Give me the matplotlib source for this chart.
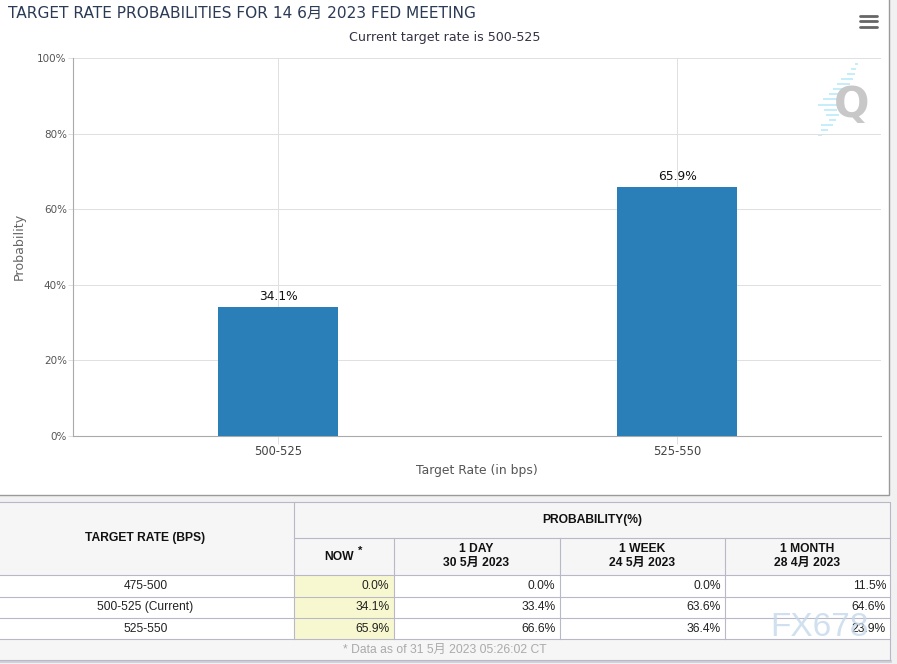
import matplotlib
matplotlib.use('Agg')
import matplotlib.pyplot as plt
from matplotlib.patches import Rectangle

# === Chart data ===
categories = ["500-525", "525-550"]
probabilities = [34.1, 65.9]
bar_labels = ["34.1%", "65.9%"]
y_ticks = [0, 20, 40, 60, 80, 100]

# === Table data ===
table_rates = ["475-500", "500-525 (Current)", "525-550"]
table_now = ["0.0%", "34.1%", "65.9%"]
table_day = ["0.0%", "33.4%", "66.6%"]
table_week = ["0.0%", "63.6%", "36.4%"]
table_month = ["11.5%", "64.6%", "23.9%"]
table_heads = ["1 DAY\n30 5月 2023", "1 WEEK\n24 5月 2023", "1 MONTH\n28 4月 2023"]

W, H = 897, 664
CHART_FONT = ['DejaVu Sans', 'Noto Sans CJK SC']
TABLE_FONT = ['Liberation Sans', 'Noto Sans CJK SC']
plt.rcParams['font.family'] = CHART_FONT

fig = plt.figure(figsize=(W / 100, H / 100), dpi=100, facecolor='#f1f1f1')

# Overlay in pixel coords for the page, frame, table
page = fig.add_axes([0, 0, 1, 1], zorder=0)
page.set_xlim(0, W)
page.set_ylim(H, 0)
page.axis('off')
page.add_patch(Rectangle((-2, -2), 891, 497, fc='white', ec='#9a9a9a', lw=1, zorder=0.1))

# === Bar chart ===
ax = fig.add_axes([73 / W, 1 - 435.5 / H, 808 / W, 377.5 / H], zorder=1)
ax.patch.set_alpha(0)
x = range(len(categories))
ax.bar(x, probabilities, width=0.3, color='#2a7fb8', zorder=3)
ax.set_xlim(-0.514, 1.511)
ax.set_ylim(0, 100)
ax.set_xticks(list(x), categories, fontsize=8.3, color='#444444')
ax.set_yticks(y_ticks, [f"{v}%" for v in y_ticks], fontsize=7.5, color='#555555')
ax.grid(True, color='#e0e0e0', lw=0.72, zorder=0)
ax.set_axisbelow(True)
ax.tick_params(axis='x', length=5.5, color='#e0e0e0', width=0.72, pad=1)
ax.tick_params(axis='y', length=3.5, color='#e0e0e0', width=0.72, pad=1)
for s in ['top', 'right']:
    ax.spines[s].set_visible(False)
for s in ['left', 'bottom']:
    ax.spines[s].set_color('#aaaaaa')
    ax.spines[s].set_linewidth(0.8)
for i, lab in enumerate(bar_labels):
    ax.annotate(lab, (i, probabilities[i]), xytext=(0, 3), textcoords='offset points',
                ha='center', va='bottom', fontsize=8.8, color='#111111', zorder=4)
ax.set_xlabel("Target Rate (in bps)", fontsize=8.9, color='#555555', labelpad=4.5)
ax.set_ylabel("Probability", fontsize=9.1, color='#666666', labelpad=8.5)

page.text(8, 13, "TARGET RATE PROBABILITIES FOR 14 6月 2023 FED MEETING", fontsize=11.1,
          color='#2b3a55', va='center', ha='left')
page.text(444.5, 37, "Current target rate is 500-525", fontsize=9.05, color='#333344',
          va='center', ha='center')

# Hamburger menu
for yy in [16, 21.3, 26.7]:
    page.plot([859.5, 876.5], [yy, yy], color='#666666', lw=2, solid_capstyle='round', zorder=5)

# Q logo with stripes
stripes = [(64, 856, 857), (69, 852, 855), (74, 848, 854), (79, 842, 852), (84, 838, 849),
           (89, 834, 845), (94, 830, 840), (99, 824, 838), (105, 819, 838), (110, 825, 836),
           (115, 827, 838), (120, 830, 835), (125, 822, 832), (130, 822, 827), (135, 819, 821)]
for yy, x0, x1 in stripes:
    page.plot([x0, x1], [yy, yy], color='#c4eefa', lw=1.4, zorder=0.5)
page.text(852, 105, "Q", fontsize=30, fontweight='bold', color='#c8c8c8', ha='center',
          va='center', zorder=0.6)

# === Table ===
col_x = [0, 293.5, 393.5, 559.5, 724.5, 890]
row_y = [502, 538, 575, 597, 618, 639, 660]
LINE = '#b8b8c8'

page.add_patch(Rectangle((-2, 502), 892, 158, fc='#f6f6f6', ec='none', zorder=0.2))
page.add_patch(Rectangle((-2, 575), 892, 64, fc='white', ec='none', zorder=0.3))
page.add_patch(Rectangle((col_x[1], 575), col_x[2] - col_x[1], 64, fc='#f8f8d0', ec='none', zorder=0.4))
page.plot([0, 890], [661, 661], color='#cfcfd6', lw=2, zorder=0.2)

page.plot([-2, 890, 890], [502, 502, 660], color=LINE, lw=0.8, zorder=1)
page.plot([col_x[1], 890], [538, 538], color=LINE, lw=0.8, zorder=1)
for yy in row_y[2:]:
    page.plot([-2, 890], [yy, yy], color=LINE, lw=0.8, zorder=1)
page.plot([col_x[1], col_x[1]], [502, 639], color=LINE, lw=0.8, zorder=1)
for xx in col_x[2:5]:
    page.plot([xx, xx], [538, 639], color=LINE, lw=0.8, zorder=1)

head = dict(family=TABLE_FONT, fontsize=8.7, fontweight='bold', color='#111111',
            ha='center', va='center', zorder=2)
cell = dict(family=TABLE_FONT, fontsize=8.65, color='#222222', va='center', zorder=2)
page.text(145, 538, "TARGET RATE (BPS)", **head)
page.text(592, 520, "PROBABILITY(%)", **head)
page.text(339, 556.5, "NOW", **head)
page.text(360, 551, "*", **{**head, 'fontsize': 8})
for i, lab in enumerate(table_heads):
    page.text((col_x[i + 2] + col_x[i + 3]) / 2, 556, lab, linespacing=1.25, **head)

row_mid = [586, 607, 628.5]
for i, yy in enumerate(row_mid):
    page.text(145.5, yy, table_rates[i], ha='center', **cell)
    for col, vals in enumerate([table_now, table_day, table_week, table_month]):
        page.text(col_x[col + 2] - 4, yy, vals[i], ha='right', **cell)

page.text(445, 649.5, "* Data as of 31 5月 2023 05:26:02 CT", family=TABLE_FONT, fontsize=8.7,
          color='#aaaaaa', ha='center', va='center', zorder=2)

# Watermark
page.text(819, 628, "FX678", family=['Liberation Sans'], fontsize=24, color='#c5d9ea',
          alpha=0.8, ha='center', va='center', zorder=3)

fig.savefig('out.png', dpi=100, facecolor=fig.get_facecolor())
